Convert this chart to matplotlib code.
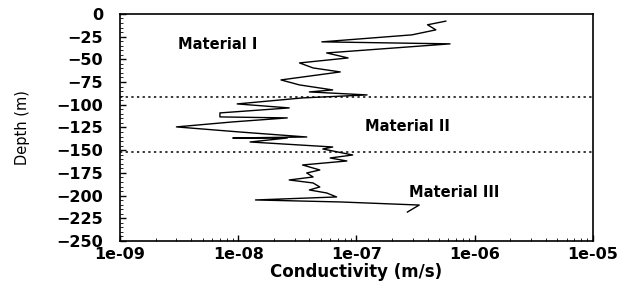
#!/usr/bin/env python3
"""Conductivity vs depth profile with material boundaries."""
import matplotlib
matplotlib.use("Agg")
import matplotlib.pyplot as plt
from matplotlib.ticker import FixedLocator, FuncFormatter, MultipleLocator

# profile (depth in m, conductivity in m/s)
depth = [-8, -12, -17.6, -23.1, -30.8, -33.0, -43.0, -48.5, -54.0, -59.5,
         -63.9, -72.7, -78.2, -83.7, -85.9, -89.2, -92.5, -99.1, -103.5, -109.0,
         -113.4, -114.5, -118.9, -124.4, -130.0, -135.5, -136.6, -136.6, -141.0, -146.5,
         -148.7, -155.3, -158.6, -161.9, -166.3, -171.8, -175.1, -179.5, -182.8, -186.1,
         -190.5, -193.8, -197.1, -201.5, -204.8, -207.0, -210.4, -218.1]
conductivity = [5.7e-7, 4.0e-7, 4.7e-7, 2.95e-7, 5.1e-8, 6.2e-7, 5.6e-8, 8.5e-8, 3.3e-8, 4.3e-8,
                7.3e-8, 2.3e-8, 3.3e-8, 6.3e-8, 4.0e-8, 1.23e-7, 3.5e-8, 9.8e-9, 2.7e-8, 7.0e-9,
                7.0e-9, 2.6e-8, 9.0e-9, 3.0e-9, 1.03e-8, 3.8e-8, 9.0e-9, 2.6e-8, 1.26e-8, 6.3e-8,
                5.2e-8, 9.3e-8, 6.0e-8, 8.3e-8, 3.5e-8, 4.9e-8, 3.8e-8, 4.3e-8, 2.7e-8, 4.3e-8,
                4.9e-8, 4.0e-8, 5.6e-8, 6.8e-8, 1.4e-8, 7.3e-8, 3.4e-7, 2.7e-7]

boundaries = [-91.5, -152.5]
materials = ["Material I", "Material II", "Material III"]
material_x = [3.1e-9, 1.18e-7, 2.8e-7]
material_y = [-34, -124, -197]

x_ticks = [1e-9, 1e-8, 1e-7, 1e-6, 1e-5]
y_ticks = list(range(0, -251, -25))


def main():
    plt.rcParams["font.family"] = ["DejaVu Sans"]
    fig = plt.figure(figsize=(6.22, 2.89), dpi=100)
    ax = fig.add_axes([0.193, 0.166, 0.760, 0.786])

    ax.plot(conductivity, depth, color="black", lw=1.0)
    for b in boundaries:
        ax.axhline(b, color="black", lw=1.1, linestyle=(0, (1.5, 2.2)))

    for name, x, y in zip(materials, material_x, material_y):
        ax.text(x, y, name, fontsize=10.5, fontweight="bold", va="center", ha="left")

    ax.set_xscale("log")
    ax.set_xlim(1e-9, 1e-5)
    ax.set_ylim(-250, 0)
    ax.xaxis.set_major_locator(FixedLocator(x_ticks))
    ax.xaxis.set_major_formatter(FuncFormatter(lambda v, p: f"{v:.0e}"))
    ax.set_yticks(y_ticks)
    ax.yaxis.set_minor_locator(MultipleLocator(5))

    ax.tick_params(direction="in", labelsize=11.5, width=1, length=4)
    ax.tick_params(axis="x", pad=4.3)
    ax.tick_params(axis="y", pad=12)
    ax.tick_params(which="minor", direction="in", length=2)
    for lab in ax.get_xticklabels() + ax.get_yticklabels():
        lab.set_fontweight("bold")
    for sp in ax.spines.values():
        sp.set_linewidth(1.2)

    ax.set_xlabel("Conductivity (m/s)", fontsize=12, fontweight="bold")
    ax.xaxis.set_label_coords(0.5, -0.095)
    ax.set_ylabel("Depth (m)", fontsize=10.5,
                  family=["DejaVu Sans Condensed", "Liberation Sans Narrow", "DejaVu Sans"])
    ax.yaxis.set_label_coords(-0.19, 0.5)

    fig.savefig("out.png", dpi=100)
    plt.close(fig)


if __name__ == "__main__":
    main()
